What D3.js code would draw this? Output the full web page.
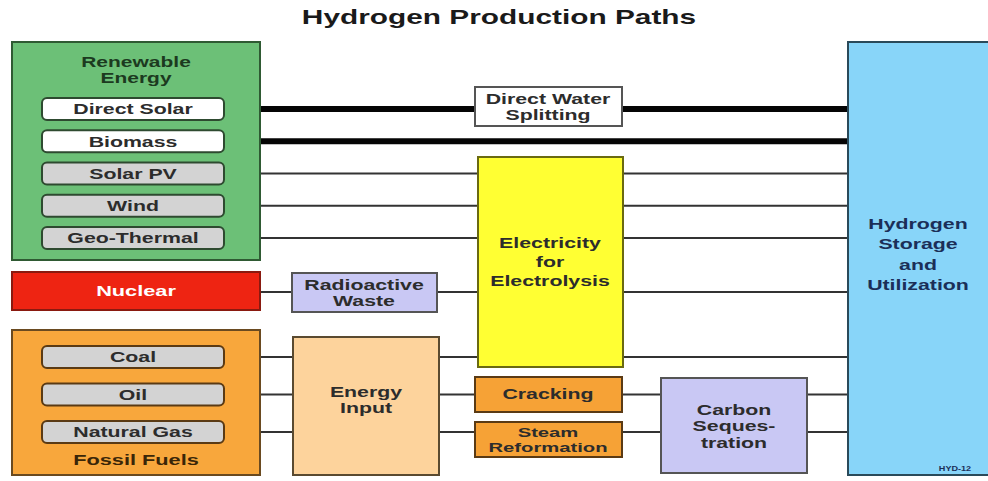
<!DOCTYPE html>
<html><head><meta charset="utf-8">
<script src="https://cdn.jsdelivr.net/npm/d3@7"></script>
<style>body{margin:0;background:#fff}svg{display:block}text{font-family:"Liberation Sans",Arial,sans-serif;font-weight:bold}</style>
</head><body><svg id="c" width="988" height="481"></svg>
<script>
// ---- data ----
const title = "Hydrogen Production Paths";
const renewableSources = ["Direct Solar", "Biomass", "Solar PV", "Wind", "Geo-Thermal"];
const renewableDirect = [true, true, false, false, false]; // thick direct paths
const fossilSources = ["Coal", "Oil", "Natural Gas"];
const processes = ["Direct Water Splitting", "Electricity for Electrolysis", "Radioactive Waste", "Energy Input", "Cracking", "Steam Reformation", "Carbon Sequestration"];
const destination = ["Hydrogen", "Storage", "and", "Utilization"];
const tag = "HYD-12";

// ---- layout ----
const svg = d3.select("#c");
const SX = 1.42;
const rowR = d3.scalePoint().domain(renewableSources).range([109, 238]);
const rowF = d3.scalePoint().domain(fossilSources).range([357, 432]);
const xLeft = 224, xRight = 848;

function label(cx, cy, lines, opt = {}) {
  const size = opt.size || 15, sp = opt.sp || 16, color = opt.color || "#2c2c2c", sx = opt.sx || SX;
  const n = lines.length;
  lines.forEach((t, i) => {
    svg.append("text")
      .attr("transform", `translate(${cx},${cy + (i - (n - 1) / 2) * sp}) scale(${sx},1)`)
      .attr("text-anchor", "middle").attr("dy", "0.36em")
      .attr("font-size", size).attr("fill", color).text(t);
  });
}
function box(x0, y0, x1, y1, fill, stroke, rx = 0, sw = 2) {
  svg.append("rect").attr("x", x0).attr("y", y0).attr("width", x1 - x0).attr("height", y1 - y0)
    .attr("rx", rx).attr("fill", fill).attr("stroke", stroke).attr("stroke-width", sw);
}
function line(x0, x1, y, w, c) {
  svg.append("line").attr("x1", x0).attr("x2", x1).attr("y1", y).attr("y2", y)
    .attr("stroke", c).attr("stroke-width", w);
}

// title
label(499, 17, [title], { size: 19.5, sx: 1.53, color: "#1a1a1a" });

// connection lines
renewableSources.forEach((s, i) => {
  line(xLeft, xRight, rowR(s), renewableDirect[i] ? 6 : 2.2, renewableDirect[i] ? "#050505" : "#333");
});
line(260, xRight, 292, 2.2, "#333");
fossilSources.forEach(s => line(xLeft, xRight, rowF(s), 2.2, "#333"));

// renewable group
box(12, 42, 260, 260, "#6cc077", "#2f5a33", 0, 2);
label(136, 62, ["Renewable"], { size: 15, color: "#1c3a1f", sx: 1.4 });
label(136, 78, ["Energy"], { size: 15, color: "#1c3a1f", sx: 1.4 });
renewableSources.forEach((s, i) => {
  const y = rowR(s);
  box(42, y - 11, 224, y + 11, renewableDirect[i] ? "#ffffff" : "#d3d3d3", "#2e4a30", 5, 2);
  label(133, y, [s], { size: 15 });
});

// nuclear
box(12, 272, 260, 310, "#ee2412", "#8a1a10", 0, 2);
label(136, 291, ["Nuclear"], { size: 15, color: "#ffffff", sx: 1.45 });

// fossil group
box(12, 330, 260, 475, "#f8a73c", "#6a4a20", 0, 2);
fossilSources.forEach(s => {
  const y = rowF(s);
  box(42, y - 11, 224, y + 11, "#d3d3d3", "#5a3a14", 5, 2);
  label(133, y, [s], { size: 15 });
});
label(136, 460, ["Fossil Fuels"], { size: 15, color: "#3a2608", sx: 1.45 });

// processes
box(475, 87, 622, 126, "#ffffff", "#555", 0, 2);
label(548, 107, ["Direct Water", "Splitting"], { sp: 16 });

box(478, 157, 623, 367, "#ffff33", "#6a6a10", 0, 2);
label(550, 262, ["Electricity", "for", "Electrolysis"], { sp: 19 });

box(292, 273, 437, 312, "#c9c8f4", "#555", 0, 2);
label(364, 293, ["Radioactive", "Waste"], { sp: 16 });

box(293, 337, 439, 475, "#fdd39c", "#5a4a30", 0, 2);
label(366, 400, ["Energy", "Input"], { sp: 16 });

box(475, 377, 622, 412, "#f6a236", "#5a3a14", 0, 2);
label(548, 394, ["Cracking"], {});

box(475, 422, 622, 457, "#f6a236", "#5a3a14", 0, 2);
label(548, 440, ["Steam", "Reformation"], { sp: 15, size: 13.5, sx: 1.5 });

box(661, 378, 807, 473, "#c9c8f4", "#555", 0, 2);
label(734, 426, ["Carbon", "Seques-", "tration"], { sp: 16.5 });

// destination
box(848, 42, 992, 475, "#88d5f9", "#2a4a5a", 0, 2);
label(918, 254, destination, { sp: 20.5, color: "#1b2f58", size: 15 });
label(955, 468, [tag], { size: 7, color: "#1b2f58", sx: 1.3 });
</script></body></html>
